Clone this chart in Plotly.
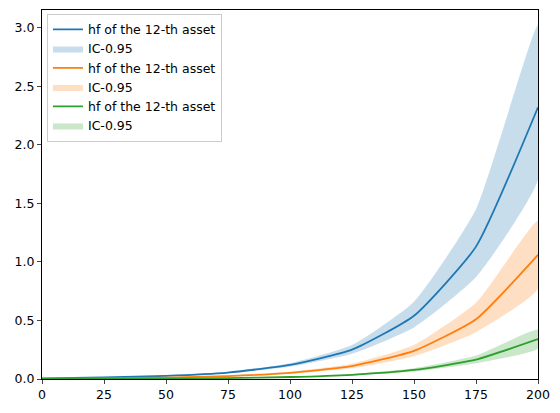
import plotly.graph_objects as go

x = [0, 25, 50, 75, 100, 125, 150, 175, 200]
blue = [0.006, 0.013, 0.027, 0.055, 0.12, 0.25, 0.54, 1.13, 2.32]
blue_lo = [0.005, 0.011, 0.024, 0.05, 0.105, 0.215, 0.44, 0.87, 1.70]
blue_hi = [0.007, 0.015, 0.030, 0.062, 0.135, 0.29, 0.66, 1.45, 3.02]
orange = [0.003, 0.006, 0.012, 0.025, 0.053, 0.11, 0.24, 0.51, 1.06]
orange_lo = [0.002, 0.005, 0.010, 0.021, 0.045, 0.092, 0.195, 0.40, 0.77]
orange_hi = [0.004, 0.007, 0.014, 0.029, 0.062, 0.13, 0.29, 0.65, 1.35]
green = [0.001, 0.002, 0.004, 0.008, 0.017, 0.036, 0.077, 0.165, 0.34]
green_lo = [0.001, 0.0015, 0.003, 0.007, 0.014, 0.03, 0.064, 0.135, 0.26]
green_hi = [0.0012, 0.0025, 0.005, 0.009, 0.02, 0.043, 0.092, 0.20, 0.42]

series = [
    (blue, blue_lo, blue_hi, "#1f77b4", "rgba(31,119,180,0.25)"),
    (orange, orange_lo, orange_hi, "#ff7f0e", "rgba(255,127,14,0.25)"),
    (green, green_lo, green_hi, "#2ca02c", "rgba(44,160,44,0.25)"),
]

fig = go.Figure()
for mid, lo, hi, c, fc in series:
    fig.add_trace(go.Scatter(x=x, y=mid, mode="lines",
                             line=dict(color=c, width=1.8, shape="spline", smoothing=0.5),
                             name="hf of the 12-th asset"))
    fig.add_trace(go.Scatter(x=x + x[::-1], y=hi + lo[::-1], fill="toself", fillcolor=fc,
                             line=dict(width=0, shape="spline", smoothing=0.5), mode="lines", name="IC-0.95"))

fig.update_layout(
    width=560, height=413, margin=dict(l=34, r=30, t=2, b=42, autoexpand=False),
    plot_bgcolor="white", paper_bgcolor="white",
    font=dict(family="DejaVu Sans", size=12.5, color="black"),
    legend=dict(x=0.01, y=0.99, xanchor="left", yanchor="top", bordercolor="#cccccc", borderwidth=1,
                bgcolor="rgba(255,255,255,0.8)", tracegroupgap=0, itemwidth=30),
    showlegend=True,
)
fig.update_xaxes(range=[0, 200], tickvals=list(range(0, 201, 25)), showgrid=False, zeroline=False,
                 showline=True, linecolor="black", mirror=True, ticks="outside", ticklen=4)
fig.update_yaxes(range=[0, 3.15], tickvals=[0, 0.5, 1, 1.5, 2, 2.5, 3], tickformat=".1f", showgrid=False,
                 zeroline=False, showline=True, linecolor="black", mirror=True, ticks="outside", ticklen=4)
fig.write_html("out.html")
